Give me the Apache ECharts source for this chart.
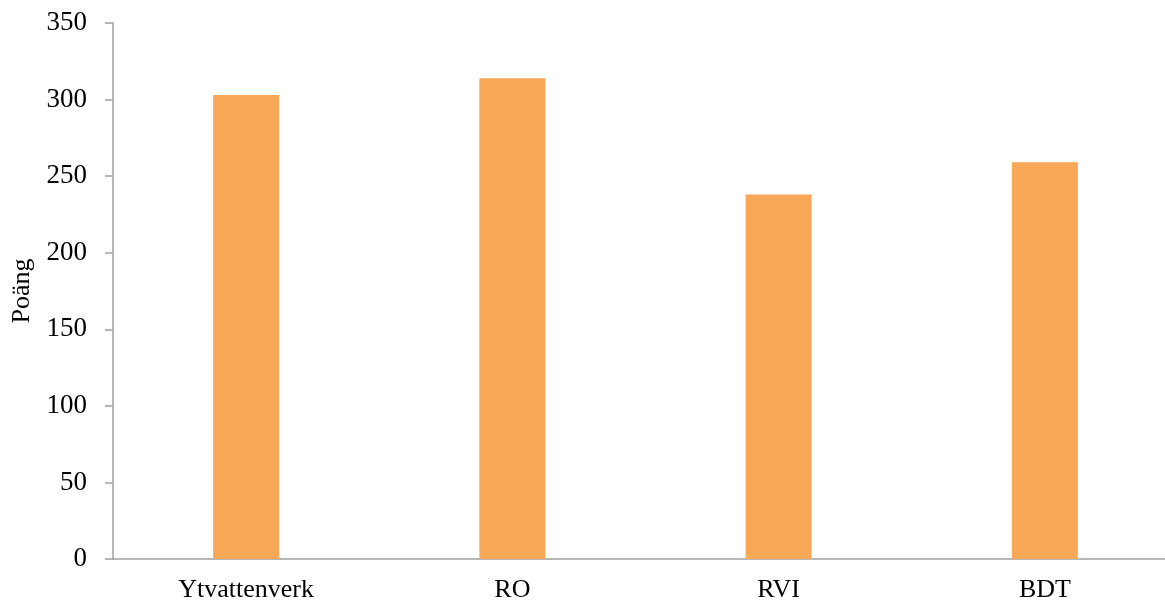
<!DOCTYPE html>
<html>
<head>
<meta charset="utf-8">
<script src="https://cdn.jsdelivr.net/npm/echarts@6/dist/echarts.min.js"></script>
<style>html,body{margin:0;padding:0;background:#fff}#c{width:1165px;height:600px}</style>
</head>
<body>
<div id="c"></div>
<script>
const categories = ['Ytvattenverk', 'RO', 'RVI', 'BDT'];
const values = [303, 314, 238, 259];
const yTicks = [0, 50, 100, 150, 200, 250, 300, 350];
const yTitle = 'Poäng';

const chart = echarts.init(document.getElementById('c'), null, {renderer: 'canvas'});
chart.setOption({
  animation: false,
  backgroundColor: '#fff',
  grid: {left: 113, right: -13, top: 23, bottom: 41, containLabel: false, outerBoundsMode: 'none'},
  xAxis: {
    type: 'category',
    data: categories,
    axisLine: {lineStyle: {color: '#a0a0a0', width: 1.5}},
    axisTick: {show: false},
    axisLabel: {color: '#000', fontFamily: 'Liberation Serif', fontSize: 26, margin: 18}
  },
  yAxis: {
    type: 'value',
    min: yTicks[0],
    max: yTicks[yTicks.length - 1],
    interval: 50,
    name: yTitle,
    nameLocation: 'middle',
    nameGap: 76,
    nameTextStyle: {color: '#000', fontFamily: 'Liberation Serif', fontSize: 26},
    axisLine: {show: true, lineStyle: {color: '#a0a0a0', width: 1.5}},
    axisTick: {show: true, length: 8, lineStyle: {color: '#a0a0a0', width: 1.5}},
    splitLine: {show: false},
    axisLabel: {color: '#000', fontFamily: 'Liberation Serif', fontSize: 27, margin: 26}
  },
  series: [{
    type: 'bar',
    data: values,
    barWidth: 66,
    itemStyle: {color: '#F9A857'}
  }]
});
</script>
</body>
</html>
